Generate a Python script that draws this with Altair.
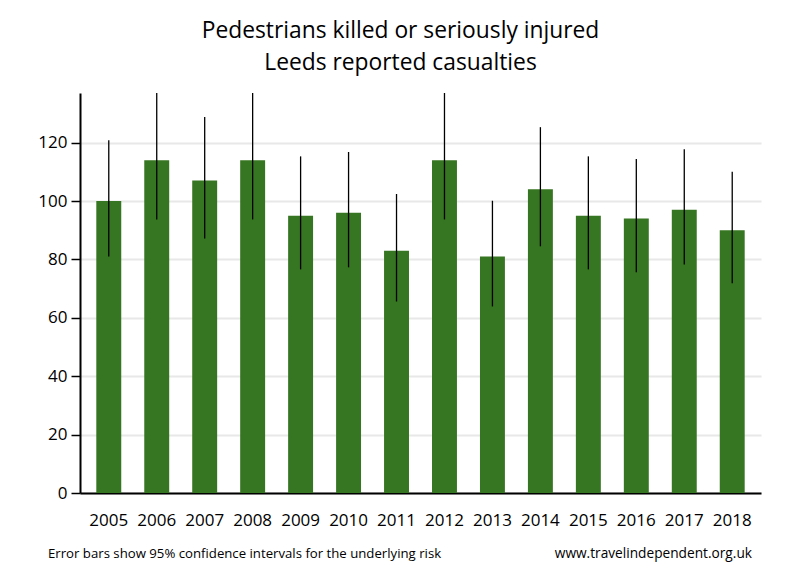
import altair as alt
import pandas as pd

years = ["2005", "2006", "2007", "2008", "2009", "2010", "2011",
         "2012", "2013", "2014", "2015", "2016", "2017", "2018"]
casualties = [100, 114, 107, 114, 95, 96, 83, 114, 81, 104, 95, 94, 97, 90]
ci_low = [81.0, 93.7, 87.2, 93.7, 76.6, 77.3, 65.6, 93.7, 63.9, 84.5, 76.6, 75.6, 78.3, 71.8]
ci_high = [120.8, 137.0, 128.8, 137.0, 115.3, 116.8, 102.4, 137.0, 100.1, 125.3, 115.3, 114.4, 117.7, 110.0]
y_ticks = [0, 20, 40, 60, 80, 100, 120]

df = pd.DataFrame({"year": years, "value": casualties, "lo": ci_low, "hi": ci_high})

FONT = "Open Sans"

x = alt.X("year:O", title=None,
          scale=alt.Scale(paddingInner=0.48, paddingOuter=0.34),
          axis=alt.Axis(labelAngle=0, labelFontSize=17, labelFont=FONT, labelColor="#000",
                        ticks=False, labelPadding=19, domainColor="#000", domainWidth=2,
                        grid=False))
y = alt.Y("value:Q", title=None,
          scale=alt.Scale(domain=[0, 137], nice=False, zero=True),
          axis=alt.Axis(values=y_ticks, labelFontSize=17, labelFont=FONT, labelColor="#000",
                        tickColor="#000", tickSize=9, tickWidth=1.5, labelPadding=4,
                        domainColor="#000", domainWidth=2,
                        grid=True, gridColor="#e8e8e8", gridWidth=2))

bars = alt.Chart(df).mark_bar(color="#367521").encode(x=x, y=y)
err = alt.Chart(df).mark_rule(color="#000", strokeWidth=1.3).encode(
    x="year:O", y="lo:Q", y2="hi:Q")

foot_left = alt.Chart(pd.DataFrame({"t": ["Error bars show 95% confidence intervals for the underlying risk"]})).mark_text(
    align="left", baseline="middle", fontSize=13.2, font=FONT, color="#000"
).encode(text="t:N", x=alt.value(-32), y=alt.value(461))
foot_right = alt.Chart(pd.DataFrame({"t": ["www.travelindependent.org.uk"]})).mark_text(
    align="right", baseline="middle", fontSize=13.7, font=FONT, color="#000"
).encode(text="t:N", x=alt.value(672), y=alt.value(461))

chart = alt.layer(bars, err, foot_left, foot_right).properties(
    width=681, height=400,
    title=alt.TitleParams(["Pedestrians killed or seriously injured", "Leeds reported casualties"],
                          font=FONT, fontSize=22.8, fontWeight="normal", color="#000",
                          anchor="middle", dx=-20, offset=18, lineHeight=32),
    autosize=alt.AutoSizeParams(type="none"),
    padding={"left": 72, "top": 85, "right": 31, "bottom": 79},
).configure_view(stroke=None).configure_axisX(domain=True)

chart.save("out.html", embed_options={"renderer": "svg", "actions": False})
